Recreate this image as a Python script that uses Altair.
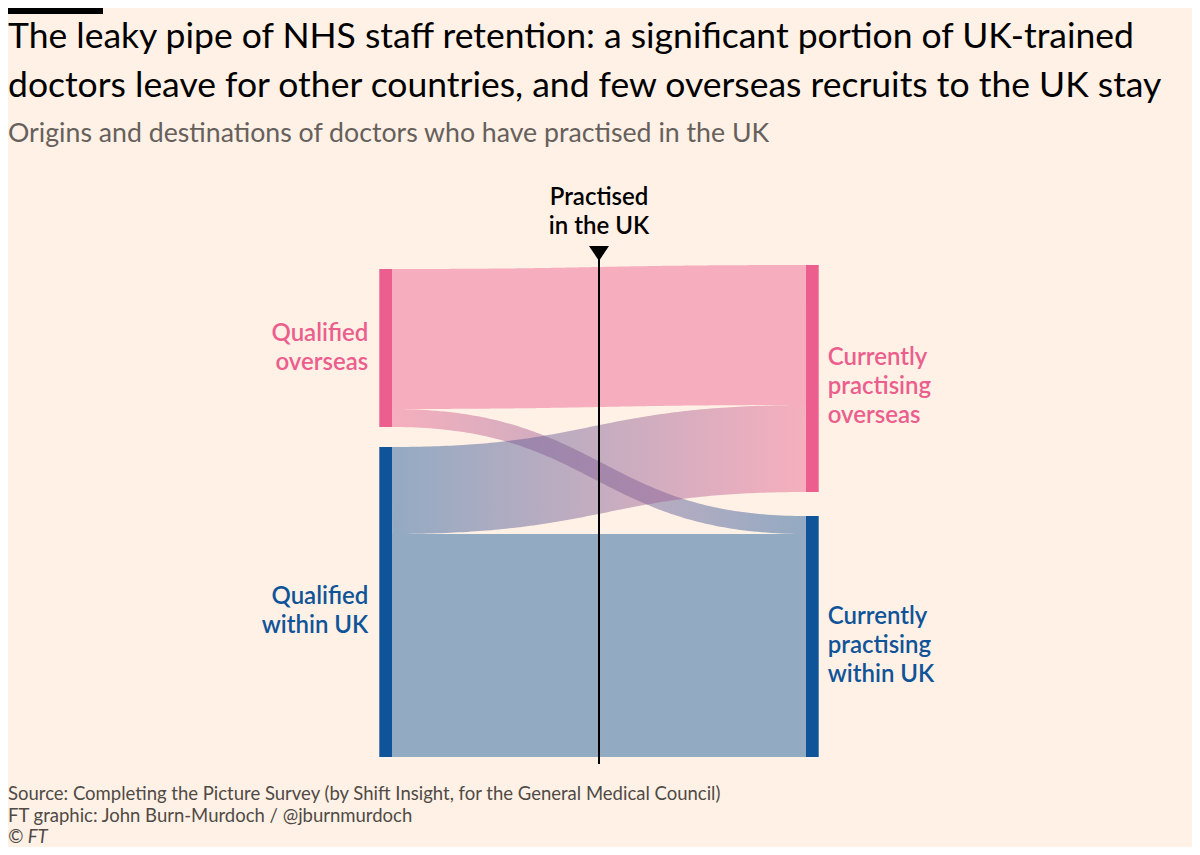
import numpy as np
import pandas as pd
import altair as alt

# ---------------- data (relative numbers of doctors) ----------------
node_keys = ["overseas", "uk"]
left_labels = ["Qualified\noverseas", "Qualified\nwithin UK"]
right_labels = ["Currently\npractising\noverseas", "Currently\npractising\nwithin UK"]
flow_source = ["overseas", "overseas", "uk", "uk"]
flow_target = ["overseas", "uk", "overseas", "uk"]
flow_value = [140, 18, 87, 223]

title_lines = [
    "The leaky pipe of NHS staff retention: a significant portion of UK-trained",
    "doctors leave for other countries, and few overseas recruits to the UK stay",
]
subtitle_text = "Origins and destinations of doctors who have practised in the UK"
marker_lines = ["Practised", "in the UK"]
footer_lines = [
    "Source: Completing the Picture Survey (by Shift Insight, for the General Medical Council)",
    "FT graphic: John Burn-Murdoch / @jburnmurdoch",
    "\u00a9 FT",
]

# ---------------- style / layout ----------------
BG = "#fff1e5"
PINK = "#eb5e8d"
BLUE = "#0f5499"
INK = "#000000"
FLOW_OPACITY = 0.45
FONT = "Lato"
TOTAL_W, TOTAL_H = 1184, 839
PLOT_W = 414
PAD_L, PAD_T = 384, 257
GAP_L, GAP_R = 20, 24
NODE_W = 12.7 / PLOT_W
LABEL_LH = 29
LABEL_NUDGE = {("L", "overseas"): 0, ("L", "uk"): 9, ("R", "overseas"): 8, ("R", "uk"): 9}

# ---------------- sankey layout computed from the values ----------------
flows = list(zip(flow_source, flow_target, flow_value))
L = {k: sum(v for s, t, v in flows if s == k) for k in node_keys}
R = {k: sum(v for s, t, v in flows if t == k) for k in node_keys}
left_total = sum(L.values()) + GAP_L * (len(node_keys) - 1)
right_total = sum(R.values()) + GAP_R * (len(node_keys) - 1)
H = max(left_total, right_total)


def column(sizes, gap, total):
    y = H - total  # bottom-aligned columns
    pos = {}
    for k in node_keys:
        pos[k] = (y, y + sizes[k])
        y += sizes[k] + gap
    return pos


Lpos = column(L, GAP_L, left_total)
Rpos = column(R, GAP_R, right_total)

lcur = {k: Lpos[k][0] for k in node_keys}
rcur = {k: Rpos[k][0] for k in node_keys}
left_c, right_c = {}, {}
for s, t, v in sorted(flows, key=lambda f: (node_keys.index(f[0]), node_keys.index(f[1]))):
    left_c[(s, t)] = lcur[s] + v / 2
    lcur[s] += v
for s, t, v in sorted(flows, key=lambda f: (node_keys.index(f[1]), node_keys.index(f[0]))):
    right_c[(s, t)] = rcur[t] + v / 2
    rcur[t] += v

u = np.linspace(0, 1, 121)
bx = 1.5 * u * (1 - u) + u ** 3          # cubic bezier, control points at mid-x
bw = 3 * u ** 2 - 2 * u ** 3
rows = []
for s, t, v in flows:
    y0, y1 = left_c[(s, t)], right_c[(s, t)]
    for i in range(len(u)):
        rows.append({"flow": f"{s}-{t}", "i": i, "x": bx[i], "y": y0 + (y1 - y0) * bw[i], "value": v})
flows_df = pd.DataFrame(rows)

node_rows = []
for side, pos, labels in (("L", Lpos, left_labels), ("R", Rpos, right_labels)):
    for k, lab in zip(node_keys, labels):
        x0, x1 = (-NODE_W, 0.0) if side == "L" else (1.0, 1.0 + NODE_W)
        node_rows.append({"side": side, "key": k, "y0": pos[k][0], "y1": pos[k][1],
                          "cy": (pos[k][0] + pos[k][1]) / 2, "x0": x0, "x1": x1,
                          "lx": x0 if side == "L" else x1, "label": lab})
nodes_df = pd.DataFrame(node_rows)

xscale = alt.Scale(domain=[0, 1], nice=False, zero=False)
yscale = alt.Scale(domain=[0, H], reverse=True, nice=False, zero=False)
sscale = alt.Scale(domain=[0, H], range=[0, H], zero=True)
cscale = alt.Scale(domain=node_keys, range=[PINK, BLUE])
COL = {"overseas": PINK, "uk": BLUE}


def grad(c0, c1):
    return {"gradient": "linear", "x1": 0, "y1": 0, "x2": 1, "y2": 0,
            "stops": [{"offset": 0, "color": c0}, {"offset": 1, "color": c1}]}


def flow_layer(s, t):
    stroke = COL[s] if s == t else grad(COL[s], COL[t])
    return (
        alt.Chart(flows_df)
        .transform_filter(alt.datum.flow == f"{s}-{t}")
        .mark_line(stroke=stroke, strokeOpacity=FLOW_OPACITY, strokeCap="butt", interpolate="linear")
        .encode(
            x=alt.X("x:Q", scale=xscale, axis=None),
            y=alt.Y("y:Q", scale=yscale, axis=None),
            size=alt.Size("value:Q", scale=sscale, legend=None),
            order="i:Q",
        )
    )


layers = [flow_layer(s, t) for s, t in [("overseas", "overseas"), ("uk", "uk"), ("overseas", "uk"), ("uk", "overseas")]]

layers.append(
    alt.Chart(nodes_df).mark_rect().encode(
        x=alt.X("x0:Q", scale=xscale, axis=None), x2="x1",
        y=alt.Y("y0:Q", scale=yscale, axis=None), y2="y1",
        color=alt.Color("key:N", scale=cscale, legend=None),
    )
)

for side, labels in (("L", left_labels), ("R", right_labels)):
    for k, lab in zip(node_keys, labels):
        n = lab.count("\n") + 1
        layers.append(
            alt.Chart(nodes_df)
            .transform_filter((alt.datum.side == side) & (alt.datum.key == k))
            .mark_text(
                align="right" if side == "L" else "left",
                dx=-11 if side == "L" else 9,
                dy=-(n - 1) * LABEL_LH / 2 + LABEL_NUDGE[(side, k)],
                baseline="middle", lineBreak="\n", lineHeight=LABEL_LH,
                font=FONT, fontSize=24, fontWeight=600, color=COL[k],
            )
            .encode(
                x=alt.X("lx:Q", scale=xscale, axis=None),
                y=alt.Y("cy:Q", scale=yscale, axis=None),
                text="label:N",
            )
        )

marker_df = pd.DataFrame({"x": [0.5], "t": ["\n".join(marker_lines)]})
layers.append(
    alt.Chart(marker_df).mark_rule(color=INK, strokeWidth=2).encode(
        x=alt.X("x:Q", scale=xscale, axis=None), y=alt.value(-7), y2=alt.value(499)
    )
)
layers.append(
    alt.Chart(marker_df).mark_point(
        shape="M-1,-0.75L1,-0.75L0,0.75Z", size=400, filled=True, color=INK, opacity=1
    ).encode(x=alt.X("x:Q", scale=xscale, axis=None), y=alt.value(-11.6))
)
layers.append(
    alt.Chart(marker_df).mark_text(
        align="center", baseline="alphabetic", lineBreak="\n", lineHeight=29,
        font=FONT, fontSize=24, fontWeight=600, color=INK,
    ).encode(x=alt.X("x:Q", scale=xscale, axis=None), y=alt.value(-60), text="t:N")
)


def text_layer(text, x, y, **kw):
    return alt.Chart(pd.DataFrame({"t": [text]})).mark_text(
        align="left", baseline="alphabetic", lineBreak="\n", font=FONT, **kw
    ).encode(x=alt.value(x), y=alt.value(y), text="t:N")


# FT black bar
layers.append(
    alt.Chart(pd.DataFrame({"a": [0]})).mark_rect(color="#000000").encode(
        x=alt.value(-PAD_L), x2=alt.value(-PAD_L + 95), y=alt.value(-PAD_T), y2=alt.value(-PAD_T + 6)
    )
)
layers.append(text_layer("\n".join(title_lines), -PAD_L, -217, fontSize=35.5, lineHeight=49, color=INK))
layers.append(text_layer(subtitle_text, -PAD_L, -123, fontSize=26.7, color="#66605c"))
layers.append(text_layer("\n".join(footer_lines[:2]), -PAD_L, 535, fontSize=18.5, lineHeight=21.5, color="#4f4a45"))
layers.append(text_layer(footer_lines[2], -PAD_L, 578, fontSize=18.5, fontStyle="italic", color="#4f4a45"))

chart = (
    alt.layer(*layers)
    .properties(
        width=PLOT_W,
        height=H,
        background=BG,
        padding={"left": PAD_L, "top": PAD_T, "right": TOTAL_W - PAD_L - PLOT_W, "bottom": TOTAL_H - PAD_T - H},
        autosize=alt.AutoSizeParams(type="none"),
    )
    .configure_view(stroke=None)
)

chart.save("out.html", embed_options={"renderer": "svg", "actions": False})
